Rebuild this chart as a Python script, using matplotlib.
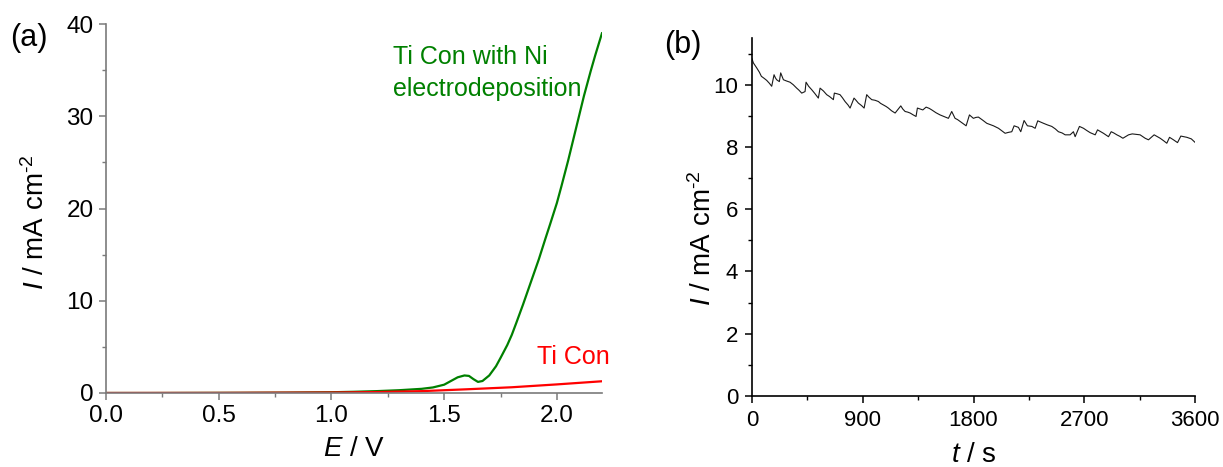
import matplotlib
matplotlib.use('Agg')
import matplotlib.pyplot as plt
from matplotlib.ticker import MultipleLocator

plt.rcParams['font.family'] = ['Liberation Sans', 'DejaVu Sans']
plt.rcParams['mathtext.fontset'] = 'custom'
plt.rcParams['mathtext.rm'] = 'Liberation Sans'
plt.rcParams['mathtext.it'] = 'Liberation Sans:italic'

# (a) LSV curves
E_ni = [0.0, 0.2, 0.4, 0.6, 0.8, 1.0, 1.1, 1.2, 1.3, 1.4, 1.45, 1.5, 1.53, 1.56, 1.59,
        1.61, 1.63, 1.65, 1.67, 1.7, 1.73, 1.75, 1.78, 1.8, 1.82, 1.85, 1.88, 1.9, 1.92,
        1.95, 1.97, 2.0, 2.02, 2.05, 2.07, 2.1, 2.12, 2.15, 2.17, 2.2]
I_ni = [0.0, 0.0, 0.01, 0.02, 0.04, 0.08, 0.13, 0.2, 0.3, 0.45, 0.6, 0.9, 1.3, 1.7, 1.9,
        1.85, 1.5, 1.2, 1.3, 1.9, 2.9, 3.8, 5.2, 6.3, 7.6, 9.6, 11.7, 13.1, 14.5,
        16.8, 18.3, 20.6, 22.4, 25.2, 27.2, 30.2, 32.2, 34.9, 36.6, 39.0]
E_ti = [0.0, 0.5, 1.0, 1.2, 1.4, 1.6, 1.8, 2.0, 2.2]
I_ti = [0.0, 0.01, 0.05, 0.1, 0.2, 0.4, 0.62, 0.93, 1.27]

# (b) chronoamperometry
t_s = [0, 11, 38, 60, 76, 100, 119, 140, 160, 179, 190, 200, 222, 233, 255, 280, 309, 335,
       363, 380, 404, 431, 439, 460, 485, 510, 539, 553, 580, 607, 630, 661, 669, 690,
       715, 735, 756, 780, 797, 829, 845, 864, 890, 911, 932, 950, 973, 1000, 1027, 1045,
       1068, 1090, 1108, 1135, 1163, 1209, 1225, 1244, 1265, 1285, 1310, 1333, 1344,
       1365, 1388, 1415, 1440, 1461, 1495, 1528, 1560, 1596, 1623, 1650, 1670, 1691,
       1715, 1740, 1767, 1799, 1820, 1840, 1875, 1908, 1935, 1962, 2003, 2030, 2057,
       2085, 2111, 2130, 2150, 2165, 2184, 2211, 2238, 2274, 2301, 2322, 2345, 2369,
       2400, 2436, 2465, 2490, 2520, 2545, 2585, 2612, 2626, 2661, 2694, 2720, 2748,
       2789, 2808, 2830, 2856, 2897, 2919, 2940, 2965, 2990, 3014, 3060, 3090, 3114,
       3154, 3195, 3222, 3268, 3290, 3317, 3345, 3371, 3393, 3425, 3458, 3485, 3510,
       3534, 3570, 3600]
I_t = [10.83, 10.70, 10.54, 10.40, 10.27, 10.20, 10.14, 10.05, 9.95, 10.32, 10.22, 10.16,
       10.10, 10.38, 10.16, 10.12, 10.08, 10.00, 9.89, 9.83, 9.73, 9.78, 10.08, 9.95,
       9.84, 9.72, 9.57, 9.89, 9.80, 9.68, 9.62, 9.52, 9.73, 9.71, 9.68, 9.58, 9.46,
       9.35, 9.25, 9.57, 9.50, 9.41, 9.33, 9.25, 9.68, 9.60, 9.52, 9.50, 9.46, 9.40,
       9.35, 9.30, 9.25, 9.16, 9.09, 9.32, 9.22, 9.14, 9.12, 9.09, 9.03, 8.98, 9.25,
       9.22, 9.19, 9.28, 9.24, 9.19, 9.10, 9.03, 8.98, 8.92, 9.14, 8.92, 8.88, 8.82,
       8.75, 8.68, 9.03, 8.92, 8.95, 8.96, 8.86, 8.76, 8.72, 8.68, 8.60, 8.52, 8.44,
       8.47, 8.49, 8.68, 8.65, 8.63, 8.49, 8.85, 8.68, 8.66, 8.60, 8.84, 8.80, 8.76,
       8.71, 8.66, 8.58, 8.49, 8.45, 8.39, 8.39, 8.49, 8.33, 8.66, 8.60, 8.53, 8.46,
       8.39, 8.55, 8.50, 8.44, 8.33, 8.49, 8.45, 8.39, 8.34, 8.28, 8.39, 8.42, 8.41,
       8.39, 8.28, 8.23, 8.39, 8.34, 8.28, 8.20, 8.12, 8.31, 8.23, 8.14, 8.35, 8.33,
       8.31, 8.26, 8.15]

fig = plt.figure(figsize=(12.23, 4.67), dpi=100)

# ----- panel (a)
ax = fig.add_axes([0.0867, 0.1585, 0.4055, 0.790])
ax.plot(E_ni, I_ni, color='#008000', lw=1.6)
ax.plot(E_ti, I_ti, color='#ff0000', lw=1.6)
ax.set_xlim(0, 2.2)
ax.set_ylim(0, 40)
ax.xaxis.set_minor_locator(MultipleLocator(0.25))
ax.yaxis.set_major_locator(MultipleLocator(10))
ax.yaxis.set_minor_locator(MultipleLocator(5))
ax.set_xticks([0.0, 0.5, 1.0, 1.5, 2.0])
ax.set_xticklabels(['0.0', '0.5', '1.0', '1.5', '2.0'])
for s in ['top', 'right']:
    ax.spines[s].set_visible(False)
for s in ['left', 'bottom']:
    ax.spines[s].set_color('#7a7a7a')
    ax.spines[s].set_linewidth(1.2)
ax.tick_params(which='major', direction='out', length=5, width=1.1, color='#7a7a7a',
               labelsize=17.5, pad=4)
ax.tick_params(which='minor', direction='out', length=3, width=1.0, color='#7a7a7a')
ax.set_xlabel(r'$\it{E}$ / V', fontsize=20, labelpad=6)
ax.set_ylabel(r'$\it{I}$ / mA cm$^{\text{-}2}$', fontsize=20)
ax.yaxis.set_label_coords(-0.113, 0.463)
ax.text(393 / 1223, 1 - 45 / 467, 'Ti Con with Ni\nelectrodeposition', transform=fig.transFigure,
        color='#008000', fontsize=18, ha='left', va='top', linespacing=1.4)
ax.text(537 / 1223, 1 - 357 / 467, 'Ti Con', transform=fig.transFigure,
        color='#ff0000', fontsize=18, ha='left', va='center')
fig.text(10 / 1223, 1 - 38 / 467, '(a)', fontsize=22, ha='left', va='center')

# ----- panel (b)
bx = fig.add_axes([0.6149, 0.152, 0.3622, 0.7666])
bx.plot(t_s, I_t, color='#1a1a1a', lw=0.8)
bx.set_xlim(0, 3600)
bx.set_ylim(0, 11.5)
bx.xaxis.set_major_locator(MultipleLocator(900))
bx.xaxis.set_minor_locator(MultipleLocator(450))
bx.yaxis.set_major_locator(MultipleLocator(2))
bx.yaxis.set_minor_locator(MultipleLocator(1))
for s in ['top', 'right']:
    bx.spines[s].set_visible(False)
for s in ['left', 'bottom']:
    bx.spines[s].set_linewidth(1.2)
bx.tick_params(which='major', direction='out', length=5, width=1.1, labelsize=16, pad=5)
bx.tick_params(which='minor', direction='out', length=3, width=1.0)
bx.set_xlabel(r'$\it{t}$ / s', fontsize=20, labelpad=8)
bx.set_ylabel(r'$\it{I}$ / mA cm$^{\text{-}2}$', fontsize=20)
bx.yaxis.set_label_coords(-0.08, 0.44)
fig.text(664 / 1223, 1 - 45 / 467, '(b)', fontsize=22, ha='left', va='center')

fig.savefig('out.png', dpi=100)
